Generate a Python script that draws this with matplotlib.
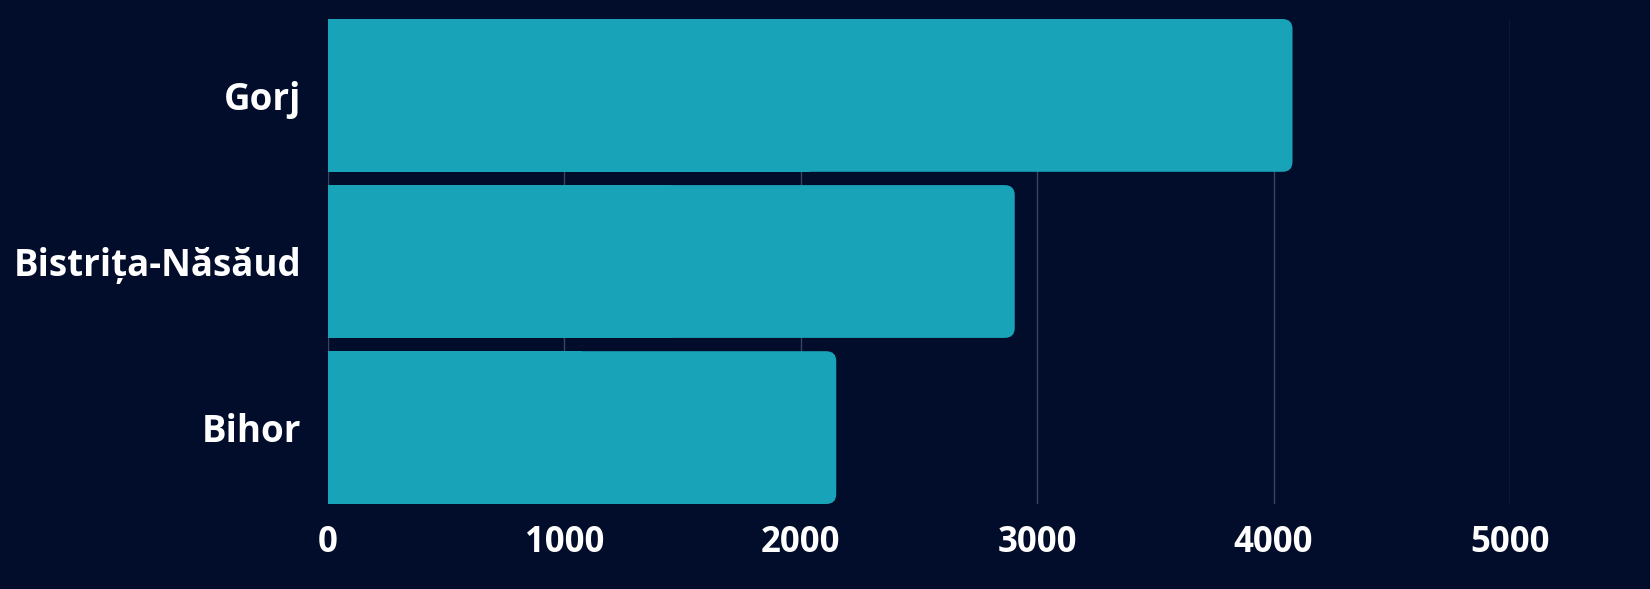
import matplotlib
matplotlib.use('Agg')
import matplotlib.pyplot as plt
from matplotlib.patches import FancyBboxPatch, Rectangle

# data
regions = ['Bihor', 'Bistrița-Năsăud', 'Gorj']
values = [2150, 2905, 4080]
x_ticks = [0, 1000, 2000, 3000, 4000, 5000]

bg = '#020c2b'
bar_color = '#19a3b8'
grid_color = '#3a4460'

plt.rcParams['font.family'] = ['Open Sans', 'DejaVu Sans']

fig = plt.figure(figsize=(16.5, 5.89), dpi=100, facecolor=bg)
ax = fig.add_axes([328 / 1650, 1 - 504 / 589, (1510 - 328) / 1650, 485 / 589])
ax.set_facecolor(bg)

bar_h = 0.92
bars = ax.barh(range(len(regions)), values, height=bar_h, color='none', zorder=3)

ax.set_xlim(0, 5000)
ax.set_ylim(-bar_h / 2, len(regions) - 1 + bar_h / 2)

# rounded right corners: rounding size in data units, aspect to match pixels
px_x = 5000 / (1510 - 328)
px_y = (len(regions) - 1 + bar_h) / 485
r_px = 10
for b in bars:
    x0, y0 = b.get_x(), b.get_y()
    w, h = b.get_width(), b.get_height()
    ax.add_patch(FancyBboxPatch((x0, y0), w, h,
                                boxstyle=f'round,pad=0,rounding_size={r_px * px_x}',
                                mutation_aspect=px_y / px_x,
                                facecolor=bar_color, edgecolor='none', zorder=3))
    ax.add_patch(Rectangle((x0, y0), w / 2, h, facecolor=bar_color,
                           edgecolor='none', zorder=3))

ax.set_xticks(x_ticks)
ax.set_xticklabels([str(t) for t in x_ticks])
ax.set_yticks(range(len(regions)))
ax.set_yticklabels(regions)
ax.grid(axis='x', color=grid_color, linewidth=1, zorder=0)
ax.grid(axis='y', visible=False)
for s in ax.spines.values():
    s.set_visible(False)
ax.tick_params(axis='both', length=0, colors='white')
ax.tick_params(axis='y', pad=19, labelsize=26.5)
ax.tick_params(axis='x', pad=15, labelsize=25)
for lbl in ax.get_xticklabels() + ax.get_yticklabels():
    lbl.set_fontweight('bold')

fig.savefig('out.png', dpi=100, facecolor=bg)
